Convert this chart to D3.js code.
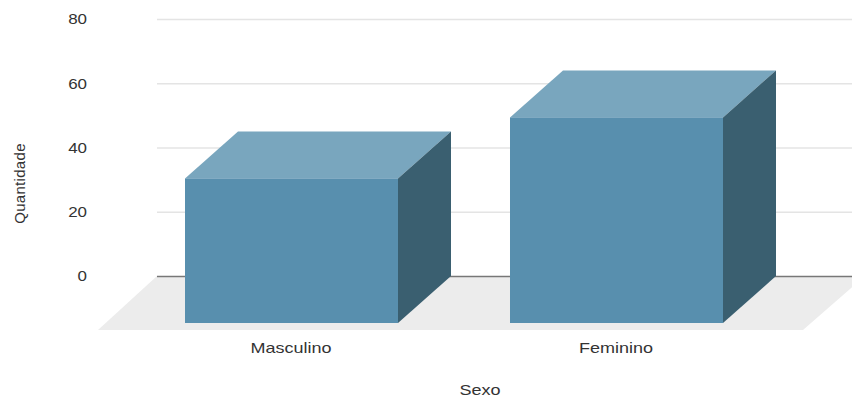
<!DOCTYPE html>
<html>
<head>
<meta charset="utf-8">
<script src="https://cdn.jsdelivr.net/npm/d3@7/dist/d3.min.js"></script>
<style>
html, body { margin: 0; padding: 0; background: #fff; }
svg { display: block; }
text { font-family: "Liberation Sans", Arial, sans-serif; fill: #333; }
</style>
</head>
<body>
<svg id="chart" width="852" height="397"></svg>
<script>
const categories = ["Masculino", "Feminino"];
const values = [45, 64];
const yTicks = [0, 20, 40, 60, 80];
const xTitle = "Sexo";
const yTitle = "Quantidade";

const colors = { front: "#588fae", top: "#79a6be", side: "#3a5f70", floor: "#ececec", grid: "#e4e4e4", axis: "#777" };

const svg = d3.select("#chart");

// Back wall of the 3D box, plus the offset from back plane to front plane
const wall = { left: 157, right: 852 };
const depth = { dx: -53, dy: 47 };
const fontSize = 15;

// Widens a text run by stretching its glyphs
const widen = (sel, factor) => sel.each(function () {
  d3.select(this)
    .attr("textLength", this.getComputedTextLength() * factor)
    .attr("lengthAdjust", "spacingAndGlyphs");
});

const y = d3.scaleLinear().domain([0, 80]).range([276, 19]);
const x = d3.scaleBand().domain(categories).range([238, 776]).paddingInner(0.3446).paddingOuter(0);
const bw = x.bandwidth();

// Floor parallelogram, running off the right edge of the page
const floorPts = [
  [wall.left, y(0)],
  [wall.left + 708, y(0)],
  [wall.left + 646, y(0) + 54],
  [wall.left - 59, y(0) + 54]
];
svg.append("polygon").attr("points", floorPts.join(" ")).attr("fill", colors.floor);

// Gridlines and value labels
const yAxis = d3.axisLeft(y).tickValues(yTicks).tickSize(0).tickPadding(70);
const yG = svg.append("g").attr("transform", `translate(${wall.left},0)`).call(yAxis);
yG.select(".domain").remove();
yG.selectAll("text")
  .attr("font-size", fontSize)
  .style("font-family", "'Liberation Sans', Arial, sans-serif").attr("fill", "#333")
  .call(widen, 1.13);
yG.selectAll("line")
  .attr("x1", 0).attr("x2", wall.right - wall.left)
  .attr("stroke", d => d === 0 ? colors.axis : colors.grid)
  .attr("stroke-width", d => d === 0 ? 1.6 : 1.4);

// One box per category: top, side and front faces
const bars = svg.append("g").selectAll("g").data(categories).join("g");

bars.each(function (c, i) {
  const g = d3.select(this);
  const bx = x(c), ty = y(values[i]), by = y(0);
  const fx = bx + depth.dx, fty = ty + depth.dy, fby = by + depth.dy;
  g.append("polygon").attr("fill", colors.top)
    .attr("points", [[bx, ty], [bx + bw, ty], [fx + bw, fty], [fx, fty]].join(" "));
  g.append("polygon").attr("fill", colors.side)
    .attr("points", [[bx + bw, ty], [bx + bw, by], [fx + bw, fby], [fx + bw, fty]].join(" "));
  g.append("rect").attr("fill", colors.front)
    .attr("x", fx).attr("y", fty).attr("width", bw).attr("height", fby - fty);
  g.append("text").attr("x", fx + bw / 2 - 0.5).attr("y", 352.5)
    .attr("text-anchor", "middle").attr("font-size", fontSize).text(c)
    .call(widen, 1.2);
});

// Axis titles
svg.append("text").attr("x", 480).attr("y", 395).attr("text-anchor", "middle")
  .attr("font-size", fontSize).text(xTitle).call(widen, 1.2);
svg.append("text").attr("transform", "translate(25,183.5) rotate(-90)").attr("text-anchor", "middle")
  .attr("font-size", fontSize).attr("letter-spacing", 0.3).text(yTitle);
</script>
</body>
</html>
